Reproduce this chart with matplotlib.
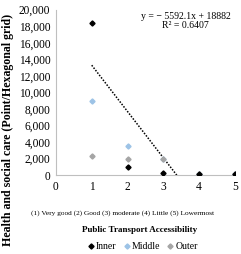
import numpy as np
import matplotlib.pyplot as plt
import matplotlib.ticker as ticker

plt.rcParams['font.family'] = ['Liberation Serif', 'DejaVu Serif']

accessibility = [1, 2, 3, 4, 5]
inner = [18400, 1000, 300, 100, 100]
middle = [9000, 3500, 2000, 100, 100]
outer = [2300, 2000, 2000, 200, 200]

# Excel-style linear trendline shown on the chart
slope = -5592.1
intercept = 18882

fig = plt.figure(figsize=(2.41, 2.54), dpi=100)
ax = fig.add_axes([0.232, 0.31, 0.743, 0.652])

ax.plot(accessibility, middle, 'D', color='#9DC3E6', markersize=2.6, label='Middle', zorder=3)
ax.plot(accessibility, outer, 'D', color='#A5A5A5', markersize=2.6, label='Outer', zorder=3)
ax.plot(accessibility, inner, 'D', color='#000000', markersize=2.6, label='Inner', zorder=4)

x_end = -intercept / slope
tx = np.array([1, x_end])
ax.plot(tx, slope * tx + intercept, color='black', linestyle=(0, (1, 1)), linewidth=1.1, zorder=2)

ax.text(3.62, 19750, 'y = \u2212 5592.1x + 18882\nR\u00b2 = 0.6407', ha='center', va='top',
        fontsize=7, linespacing=1.1)

ax.set_xlim(0, 5)
ax.set_ylim(0, 20000)
ax.set_xticks(range(6))
ax.set_yticks(range(0, 20001, 2000))
ax.yaxis.set_major_formatter(ticker.StrMethodFormatter('{x:,.0f}'))
ax.tick_params(length=0, labelsize=8.3, pad=4)
for s in ['top', 'right']:
    ax.spines[s].set_visible(False)
ax.spines['left'].set_color('#BFBFBF')
ax.spines['bottom'].set_color('#BFBFBF')

fig.text(0.032, 0.49, 'Health and social care (Point/Hexagonal grid)', rotation=90,
         ha='center', va='center', fontsize=8.6, fontweight='bold')

fig.text(0.507, 0.161, '(1) Very good (2) Good (3) moderate (4) Little (5) Lowermost',
         ha='center', va='center', fontsize=5.3)
fig.text(0.58, 0.094, 'Public Transport Accessibility', ha='center', va='center',
         fontsize=6.5, fontweight='bold')

handles, labels = ax.get_legend_handles_labels()
order = [2, 0, 1]
fig.legend([handles[i] for i in order], [labels[i] for i in order], loc='center',
           bbox_to_anchor=(0.59, 0.028), ncol=3, frameon=False, fontsize=7,
           handletextpad=0.05, columnspacing=0.6, handlelength=0.9, markerscale=1.0,
           borderpad=0)

fig.savefig('out.png', dpi=100)
